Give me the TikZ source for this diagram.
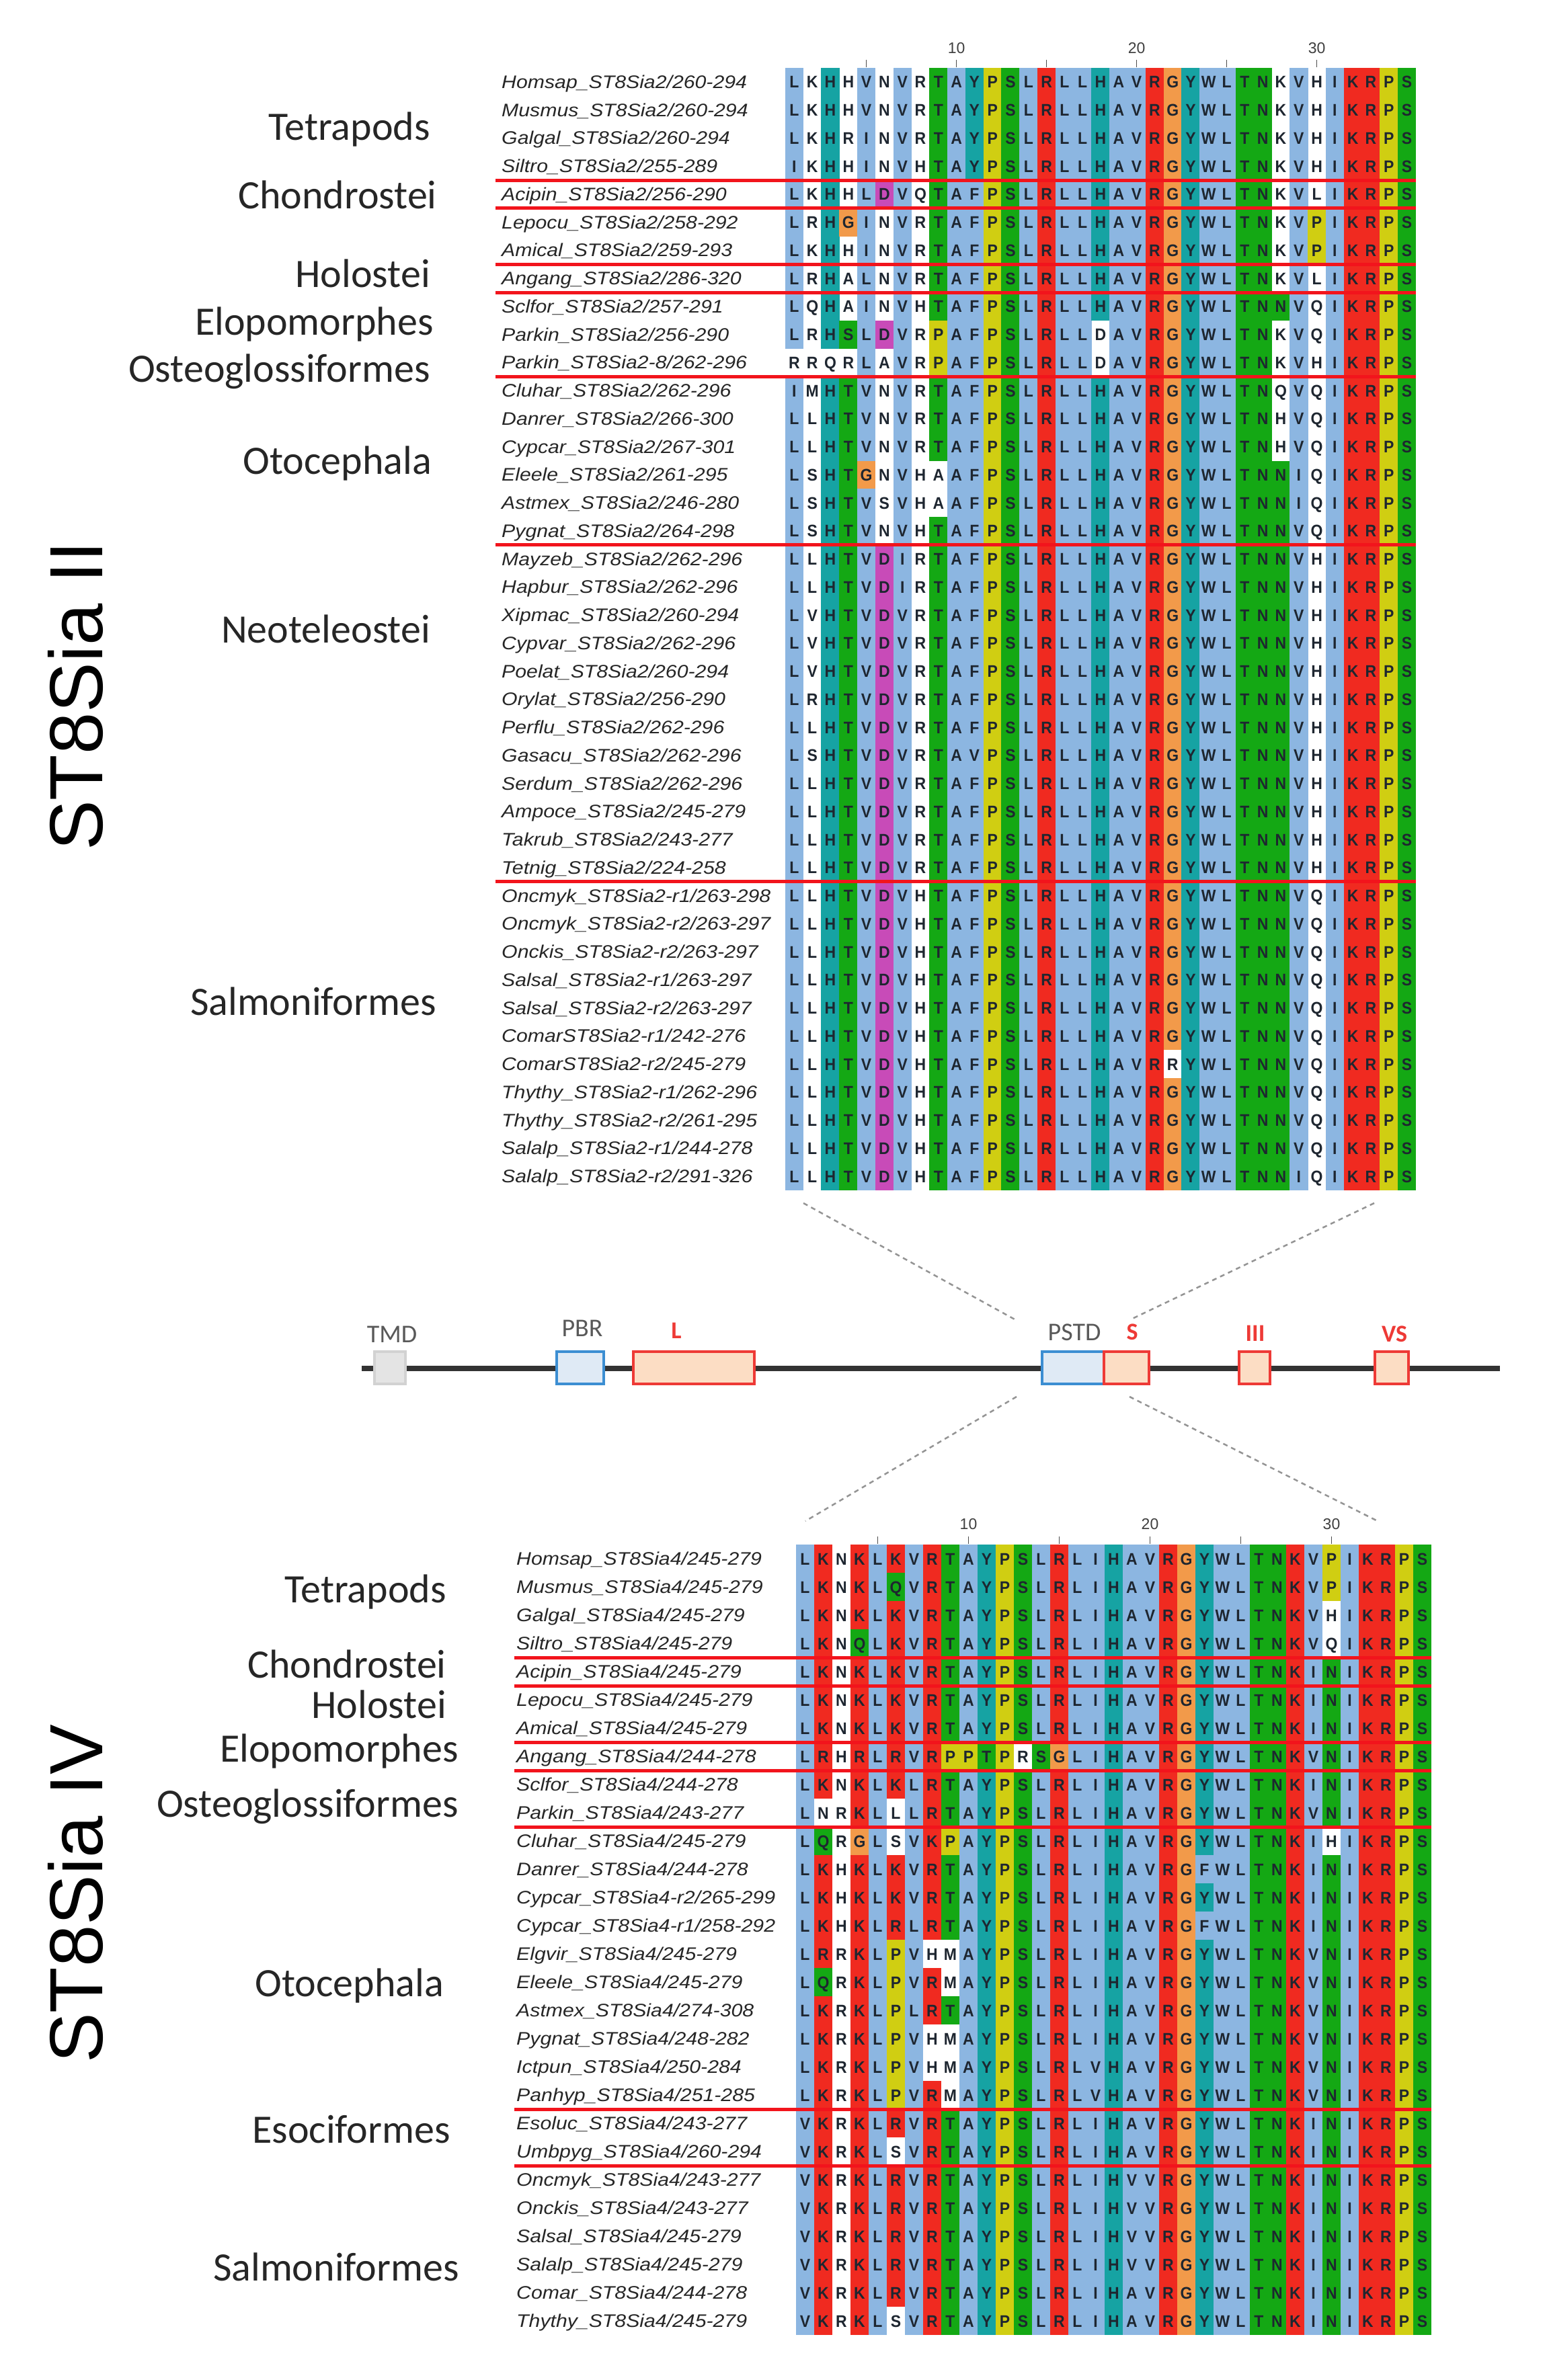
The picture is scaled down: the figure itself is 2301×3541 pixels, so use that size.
\documentclass[tikz,border=0pt]{standalone}
\usepackage{fontspec}
\setmainfont{Liberation Sans}
\newfontfamily\labfont{Carlito}
\definecolor{cxb}{HTML}{8CB6E1}
\definecolor{cxr}{HTML}{F02A20}
\definecolor{cxg}{HTML}{14A814}
\definecolor{cxc}{HTML}{16A3A3}
\definecolor{cxy}{HTML}{D0CE12}
\definecolor{cxo}{HTML}{F29A4A}
\definecolor{cxm}{HTML}{C84BB8}
\definecolor{reslet}{HTML}{1E2630}
\definecolor{sepred}{HTML}{F2141C}
\definecolor{dblue}{HTML}{3C8ED2}
\definecolor{dbluefill}{HTML}{DFEAF5}
\definecolor{dred}{HTML}{EE3A36}
\definecolor{dredfill}{HTML}{FCDDC4}
\definecolor{dgray}{HTML}{D2D2D2}
\definecolor{dgrayfill}{HTML}{E4E4E4}

\tikzset{
  res/.style={font=\bfseries\fontsize{25}{25}\selectfont, text=reslet, inner sep=0pt, anchor=base, xscale=0.92},
  seqname/.style={font=\itshape\fontsize{27}{27}\selectfont, text=black!85, inner sep=0pt, anchor=base west, xscale=1.12},
  grouplab/.style={font=\labfont\fontsize{60}{60}\selectfont, text=black!85, inner sep=0pt, anchor=base east},
  biglab/.style={font=\fontsize{112}{112}\selectfont, text=black, inner sep=0pt, anchor=base west, rotate=90},
  ticknum/.style={font=\fontsize{23}{23}\selectfont, text=black!75, inner sep=0pt},
  tickmark/.style={draw=black!70, line width=1.5pt},
  sepline/.style={draw=sepred, line width=5pt},
  dashconn/.style={draw=black!42, line width=2.5pt, dash pattern=on 7pt off 6pt},
  domline/.style={draw=black!80, line width=8pt},
  dombox/.style={inner sep=0pt, line width=3.5pt, minimum height=48pt},
  grybox/.style={dombox, draw=dgray, fill=dgrayfill},
  blubox/.style={dombox, draw=dblue, fill=dbluefill},
  redbox/.style={dombox, draw=dred, fill=dredfill},
  domlab/.style={font=\labfont\fontsize{38}{38}\selectfont, text=black!65, inner sep=0pt},
  domred/.style={font=\labfont\bfseries\fontsize{36}{36}\selectfont, text=dred, inner sep=0pt},
}

\makeatletter
\newcount\rescol
\def\resloop#1#2\relax#3#4\relax{%
  \drawres{#1}{#3}%
  \global\advance\rescol by 1\relax
  \ifx\relax#2\relax\expandafter\@gobble\else\expandafter\@firstofone\fi
  {\resloop#2\relax#4\relax}}
\newcommand\drawres[2]{%
  \pgfmathsetmacro\cx{\blkx+\the\rescol*\blkw}%
  \pgfmathsetmacro\cxmid{\cx+0.5*\blkw}%
  \if#2w\else\fill[cx#2] (\cx-0.3,\cy) rectangle ++(\blkw+0.6,\blkh);\fi
  \node[res] (\blkid\rowid-\the\rescol) at (\cxmid,\cym) {#1};}
\newcommand\alnrow[4]{%
  \def\rowid{#1}%
  \pgfmathsetmacro\cy{\blktop+(#1-1)*\blkh}%
  \pgfmathsetmacro\cym{\cy+0.5*\blkh+9}%
  \pgfmathsetmacro\cyn{\cy+0.5*\blkh+9.5}%
  \node[seqname] (\blkid name#1) at (\namex,\cyn) {#2};
  \global\rescol=0\relax
  \edef\@tmprow{\noexpand\resloop#3\relax#4\relax}\@tmprow}
\makeatother

% colour patterns, top block
\def\cclTet{bwcwb wbwgb cygbr bbcbb rocbb ggwbw brryg}
\def\cclAci{bwcwb mbwgb bygbr bbcbb rocbb ggwbw brryg}
\def\cclLep{bwcob wbwgb bygbr bbcbb rocbb ggwby brryg}
\def\cclAmi{bwcwb wbwgb bygbr bbcbb rocbb ggwby brryg}
\def\cclAng{bwcwb wbwgb bygbr bbcbb rocbb ggwbw brryg}
\def\cclScl{bwcwb wbwgb bygbr bbcbb rocbb gggbw brryg}
\def\cclPar{bwcgb mbwyb bygbr bbwbb rocbb ggwbw brryg}
\def\cclPaz{wwwwb wbwyb bygbr bbwbb rocbb ggwbw brryg}
\def\cclClu{bwcgb wbwgb bygbr bbcbb rocbb ggwbw brryg}
\def\cclEle{bwcgo wbwwb bygbr bbcbb rocbb gggbw brryg}
\def\cclAst{bwcgb wbwwb bygbr bbcbb rocbb gggbw brryg}
\def\cclPyg{bwcgb wbwgb bygbr bbcbb rocbb gggbw brryg}
\def\cclNeo{bwcgb mbwgb bygbr bbcbb rocbb gggbw brryg}
\def\cclCom{bwcgb mbwgb bygbr bbcbb rwcbb gggbw brryg}
% colour patterns, bottom block
\def\cclbA{brwrb rbrgb cygbr bbcbb rocbb ggrby brryg}
\def\cclbB{brwrb gbrgb cygbr bbcbb rocbb ggrby brryg}
\def\cclbC{brwrb rbrgb cygbr bbcbb rocbb ggrbw brryg}
\def\cclbD{brwgb rbrgb cygbr bbcbb rocbb ggrbw brryg}
\def\cclbE{brwrb rbrgb cygbr bbcbb rocbb ggrbg brryg}
\def\cclbF{brwrb rbryy gywgo bbcbb rocbb ggrbg brryg}
\def\cclbG{bwwrb wbrgb cygbr bbcbb rocbb ggrbg brryg}
\def\cclbH{bgwob wbryb cygbr bbcbb rocbb ggrbw brryg}
\def\cclbI{brwrb rbrgb cygbr bbcbb robbb ggrbg brryg}
\def\cclbJ{brwrb ybwwb cygbr bbcbb rocbb ggrbg brryg}
\def\cclbK{bgwrb ybrwb cygbr bbcbb rocbb ggrbg brryg}
\def\cclbL{brwrb ybrgb cygbr bbcbb rocbb ggrbg brryg}
\def\cclbM{brwrb ybrwb cygbr bbcbb rocbb ggrbg brryg}
\def\cclbN{brwrb wbrgb cygbr bbcbb rocbb ggrbg brryg}

\begin{document}
\begin{tikzpicture}[x=1pt,y=-1pt]
\useasboundingbox (0,0) rectangle (2301,3541);
\fill[white] (0,0) rectangle (2301,3541);

% ---------------- top alignment (ST8Sia II) ----------------
\def\blkx{1168}\def\blkw{26.8}\def\blktop{101}\def\blkh{41.75}\def\namex{746}\def\blkid{A}
\alnrow{1}{Homsap\_ST8Sia2/260-294}{LKHHV NVRTA YPSLR LLHAV RGYWL TNKVH IKRPS}{\cclTet}
\alnrow{2}{Musmus\_ST8Sia2/260-294}{LKHHV NVRTA YPSLR LLHAV RGYWL TNKVH IKRPS}{\cclTet}
\alnrow{3}{Galgal\_ST8Sia2/260-294}{LKHRI NVRTA YPSLR LLHAV RGYWL TNKVH IKRPS}{\cclTet}
\alnrow{4}{Siltro\_ST8Sia2/255-289}{IKHHI NVHTA YPSLR LLHAV RGYWL TNKVH IKRPS}{\cclTet}
\alnrow{5}{Acipin\_ST8Sia2/256-290}{LKHHL DVQTA FPSLR LLHAV RGYWL TNKVL IKRPS}{\cclAci}
\alnrow{6}{Lepocu\_ST8Sia2/258-292}{LRHGI NVRTA FPSLR LLHAV RGYWL TNKVP IKRPS}{\cclLep}
\alnrow{7}{Amical\_ST8Sia2/259-293}{LKHHI NVRTA FPSLR LLHAV RGYWL TNKVP IKRPS}{\cclAmi}
\alnrow{8}{Angang\_ST8Sia2/286-320}{LRHAL NVRTA FPSLR LLHAV RGYWL TNKVL IKRPS}{\cclAng}
\alnrow{9}{Sclfor\_ST8Sia2/257-291}{LQHAI NVHTA FPSLR LLHAV RGYWL TNNVQ IKRPS}{\cclScl}
\alnrow{10}{Parkin\_ST8Sia2/256-290}{LRHSL DVRPA FPSLR LLDAV RGYWL TNKVQ IKRPS}{\cclPar}
\alnrow{11}{Parkin\_ST8Sia2-8/262-296}{RRQRL AVRPA FPSLR LLDAV RGYWL TNKVH IKRPS}{\cclPaz}
\alnrow{12}{Cluhar\_ST8Sia2/262-296}{IMHTV NVRTA FPSLR LLHAV RGYWL TNQVQ IKRPS}{\cclClu}
\alnrow{13}{Danrer\_ST8Sia2/266-300}{LLHTV NVRTA FPSLR LLHAV RGYWL TNHVQ IKRPS}{\cclClu}
\alnrow{14}{Cypcar\_ST8Sia2/267-301}{LLHTV NVRTA FPSLR LLHAV RGYWL TNHVQ IKRPS}{\cclClu}
\alnrow{15}{Eleele\_ST8Sia2/261-295}{LSHTG NVHAA FPSLR LLHAV RGYWL TNNIQ IKRPS}{\cclEle}
\alnrow{16}{Astmex\_ST8Sia2/246-280}{LSHTV SVHAA FPSLR LLHAV RGYWL TNNIQ IKRPS}{\cclAst}
\alnrow{17}{Pygnat\_ST8Sia2/264-298}{LSHTV NVHTA FPSLR LLHAV RGYWL TNNVQ IKRPS}{\cclPyg}
\alnrow{18}{Mayzeb\_ST8Sia2/262-296}{LLHTV DIRTA FPSLR LLHAV RGYWL TNNVH IKRPS}{\cclNeo}
\alnrow{19}{Hapbur\_ST8Sia2/262-296}{LLHTV DIRTA FPSLR LLHAV RGYWL TNNVH IKRPS}{\cclNeo}
\alnrow{20}{Xipmac\_ST8Sia2/260-294}{LVHTV DVRTA FPSLR LLHAV RGYWL TNNVH IKRPS}{\cclNeo}
\alnrow{21}{Cypvar\_ST8Sia2/262-296}{LVHTV DVRTA FPSLR LLHAV RGYWL TNNVH IKRPS}{\cclNeo}
\alnrow{22}{Poelat\_ST8Sia2/260-294}{LVHTV DVRTA FPSLR LLHAV RGYWL TNNVH IKRPS}{\cclNeo}
\alnrow{23}{Orylat\_ST8Sia2/256-290}{LRHTV DVRTA FPSLR LLHAV RGYWL TNNVH IKRPS}{\cclNeo}
\alnrow{24}{Perflu\_ST8Sia2/262-296}{LLHTV DVRTA FPSLR LLHAV RGYWL TNNVH IKRPS}{\cclNeo}
\alnrow{25}{Gasacu\_ST8Sia2/262-296}{LSHTV DVRTA VPSLR LLHAV RGYWL TNNVH IKRPS}{\cclNeo}
\alnrow{26}{Serdum\_ST8Sia2/262-296}{LLHTV DVRTA FPSLR LLHAV RGYWL TNNVH IKRPS}{\cclNeo}
\alnrow{27}{Ampoce\_ST8Sia2/245-279}{LLHTV DVRTA FPSLR LLHAV RGYWL TNNVH IKRPS}{\cclNeo}
\alnrow{28}{Takrub\_ST8Sia2/243-277}{LLHTV DVRTA FPSLR LLHAV RGYWL TNNVH IKRPS}{\cclNeo}
\alnrow{29}{Tetnig\_ST8Sia2/224-258}{LLHTV DVRTA FPSLR LLHAV RGYWL TNNVH IKRPS}{\cclNeo}
\alnrow{30}{Oncmyk\_ST8Sia2-r1/263-298}{LLHTV DVHTA FPSLR LLHAV RGYWL TNNVQ IKRPS}{\cclNeo}
\alnrow{31}{Oncmyk\_ST8Sia2-r2/263-297}{LLHTV DVHTA FPSLR LLHAV RGYWL TNNVQ IKRPS}{\cclNeo}
\alnrow{32}{Onckis\_ST8Sia2-r2/263-297}{LLHTV DVHTA FPSLR LLHAV RGYWL TNNVQ IKRPS}{\cclNeo}
\alnrow{33}{Salsal\_ST8Sia2-r1/263-297}{LLHTV DVHTA FPSLR LLHAV RGYWL TNNVQ IKRPS}{\cclNeo}
\alnrow{34}{Salsal\_ST8Sia2-r2/263-297}{LLHTV DVHTA FPSLR LLHAV RGYWL TNNVQ IKRPS}{\cclNeo}
\alnrow{35}{ComarST8Sia2-r1/242-276}{LLHTV DVHTA FPSLR LLHAV RGYWL TNNVQ IKRPS}{\cclNeo}
\alnrow{36}{ComarST8Sia2-r2/245-279}{LLHTV DVHTA FPSLR LLHAV RRYWL TNNVQ IKRPS}{\cclCom}
\alnrow{37}{Thythy\_ST8Sia2-r1/262-296}{LLHTV DVHTA FPSLR LLHAV RGYWL TNNVQ IKRPS}{\cclNeo}
\alnrow{38}{Thythy\_ST8Sia2-r2/261-295}{LLHTV DVHTA FPSLR LLHAV RGYWL TNNVQ IKRPS}{\cclNeo}
\alnrow{39}{Salalp\_ST8Sia2-r1/244-278}{LLHTV DVHTA FPSLR LLHAV RGYWL TNNVQ IKRPS}{\cclNeo}
\alnrow{40}{Salalp\_ST8Sia2-r2/291-326}{LLHTV DVHTA FPSLR LLHAV RGYWL TNNIQ IKRPS}{\cclNeo}

\foreach \k in {4,5,7,8,11,17,29}
  \draw[sepline] (737,101+\k*41.75) -- (2106,101+\k*41.75);
\foreach \k in {5,10,...,30}
  \draw[tickmark] (1168+\k*26.8-13.4,89) -- (1168+\k*26.8-13.4,100);
\node[ticknum] (tA10) at (1422.6,72) {10};
\node[ticknum] (tA20) at (1690.6,72) {20};
\node[ticknum] (tA30) at (1958.6,72) {30};

% ---------------- bottom alignment (ST8Sia IV) ----------------
\def\blkx{1184}\def\blkw{27}\def\blktop{2298}\def\blkh{42}\def\namex{768}\def\blkid{B}
\alnrow{1}{Homsap\_ST8Sia4/245-279}{LKNKL KVRTA YPSLR LIHAV RGYWL TNKVP IKRPS}{\cclbA}
\alnrow{2}{Musmus\_ST8Sia4/245-279}{LKNKL QVRTA YPSLR LIHAV RGYWL TNKVP IKRPS}{\cclbB}
\alnrow{3}{Galgal\_ST8Sia4/245-279}{LKNKL KVRTA YPSLR LIHAV RGYWL TNKVH IKRPS}{\cclbC}
\alnrow{4}{Siltro\_ST8Sia4/245-279}{LKNQL KVRTA YPSLR LIHAV RGYWL TNKVQ IKRPS}{\cclbD}
\alnrow{5}{Acipin\_ST8Sia4/245-279}{LKNKL KVRTA YPSLR LIHAV RGYWL TNKIN IKRPS}{\cclbE}
\alnrow{6}{Lepocu\_ST8Sia4/245-279}{LKNKL KVRTA YPSLR LIHAV RGYWL TNKIN IKRPS}{\cclbE}
\alnrow{7}{Amical\_ST8Sia4/245-279}{LKNKL KVRTA YPSLR LIHAV RGYWL TNKIN IKRPS}{\cclbE}
\alnrow{8}{Angang\_ST8Sia4/244-278}{LRHRL RVRPP TPRSG LIHAV RGYWL TNKVN IKRPS}{\cclbF}
\alnrow{9}{Sclfor\_ST8Sia4/244-278}{LKNKL KLRTA YPSLR LIHAV RGYWL TNKIN IKRPS}{\cclbE}
\alnrow{10}{Parkin\_ST8Sia4/243-277}{LNRKL LLRTA YPSLR LIHAV RGYWL TNKVN IKRPS}{\cclbG}
\alnrow{11}{Cluhar\_ST8Sia4/245-279}{LQRGL SVKPA YPSLR LIHAV RGYWL TNKIH IKRPS}{\cclbH}
\alnrow{12}{Danrer\_ST8Sia4/244-278}{LKHKL KVRTA YPSLR LIHAV RGFWL TNKIN IKRPS}{\cclbI}
\alnrow{13}{Cypcar\_ST8Sia4-r2/265-299}{LKHKL KVRTA YPSLR LIHAV RGYWL TNKIN IKRPS}{\cclbE}
\alnrow{14}{Cypcar\_ST8Sia4-r1/258-292}{LKHKL RLRTA YPSLR LIHAV RGFWL TNKIN IKRPS}{\cclbI}
\alnrow{15}{Elgvir\_ST8Sia4/245-279}{LRRKL PVHMA YPSLR LIHAV RGYWL TNKVN IKRPS}{\cclbJ}
\alnrow{16}{Eleele\_ST8Sia4/245-279}{LQRKL PVRMA YPSLR LIHAV RGYWL TNKVN IKRPS}{\cclbK}
\alnrow{17}{Astmex\_ST8Sia4/274-308}{LKRKL PLRTA YPSLR LIHAV RGYWL TNKVN IKRPS}{\cclbL}
\alnrow{18}{Pygnat\_ST8Sia4/248-282}{LKRKL PVHMA YPSLR LIHAV RGYWL TNKVN IKRPS}{\cclbJ}
\alnrow{19}{Ictpun\_ST8Sia4/250-284}{LKRKL PVHMA YPSLR LVHAV RGYWL TNKVN IKRPS}{\cclbJ}
\alnrow{20}{Panhyp\_ST8Sia4/251-285}{LKRKL PVRMA YPSLR LVHAV RGYWL TNKVN IKRPS}{\cclbM}
\alnrow{21}{Esoluc\_ST8Sia4/243-277}{VKRKL RVRTA YPSLR LIHAV RGYWL TNKIN IKRPS}{\cclbE}
\alnrow{22}{Umbpyg\_ST8Sia4/260-294}{VKRKL SVRTA YPSLR LIHAV RGYWL TNKIN IKRPS}{\cclbN}
\alnrow{23}{Oncmyk\_ST8Sia4/243-277}{VKRKL RVRTA YPSLR LIHVV RGYWL TNKIN IKRPS}{\cclbE}
\alnrow{24}{Onckis\_ST8Sia4/243-277}{VKRKL RVRTA YPSLR LIHVV RGYWL TNKIN IKRPS}{\cclbE}
\alnrow{25}{Salsal\_ST8Sia4/245-279}{VKRKL RVRTA YPSLR LIHVV RGYWL TNKIN IKRPS}{\cclbE}
\alnrow{26}{Salalp\_ST8Sia4/245-279}{VKRKL RVRTA YPSLR LIHVV RGYWL TNKIN IKRPS}{\cclbE}
\alnrow{27}{Comar\_ST8Sia4/244-278}{VKRKL RVRTA YPSLR LIHAV RGYWL TNKIN IKRPS}{\cclbE}
\alnrow{28}{Thythy\_ST8Sia4/245-279}{VKRKL SVRTA YPSLR LIHAV RGYWL TNKIN IKRPS}{\cclbN}

\foreach \k in {4,5,7,8,10,20,22}
  \draw[sepline] (765,2298+\k*42) -- (2129,2298+\k*42);
\foreach \k in {5,10,...,30}
  \draw[tickmark] (1184+\k*27-13.5,2286) -- (1184+\k*27-13.5,2297);
\node[ticknum] (tB10) at (1440.5,2268) {10};
\node[ticknum] (tB20) at (1710.5,2268) {20};
\node[ticknum] (tB30) at (1980.5,2268) {30};

% ---------------- group labels ----------------
\node[grouplab] (gA1) at (640,208) {Tetrapods};
\node[grouplab] (gA2) at (650,310) {Chondrostei};
\node[grouplab] (gA3) at (640,427) {Holostei};
\node[grouplab] (gA4) at (645,498) {Elopomorphes};
\node[grouplab] (gA5) at (640,568) {Osteoglossiformes};
\node[grouplab] (gA6) at (642,705) {Otocephala};
\node[grouplab] (gA7) at (640,956) {Neoteleostei};
\node[grouplab] (gA8) at (649,1510) {Salmoniformes};

\node[grouplab] (gB1) at (664,2384) {Tetrapods};
\node[grouplab] (gB2) at (664,2496) {Chondrostei};
\node[grouplab] (gB3) at (664,2556) {Holostei};
\node[grouplab] (gB4) at (682,2621) {Elopomorphes};
\node[grouplab] (gB5) at (682,2703) {Osteoglossiformes};
\node[grouplab] (gB6) at (660,2970) {Otocephala};
\node[grouplab] (gB7) at (670,3188) {Esociformes};
\node[grouplab] (gB8) at (683,3393) {Salmoniformes};

\node[biglab] (bigA) at (152,1266) {ST8Sia II};
\node[biglab] (bigB) at (152,3070) {ST8Sia IV};

% ---------------- domain scheme ----------------
\coordinate (dl) at (538,2036);
\coordinate (dr) at (2231,2036);
\draw[domline] (dl) -- (dr);
\node[grybox, minimum width=46pt] (tmd) at (580,2035) {};
\node[blubox, minimum width=70pt] (pbr) at (863,2035) {};
\node[redbox, minimum width=180pt] (lbox) at (1032,2035) {};
\node[blubox, minimum width=92pt] (pstd) at (1596,2035) {};
\node[redbox, minimum width=67pt] (sbox) at (1675.5,2035) {};
\node[redbox, minimum width=46pt] (iiibox) at (1866,2035) {};
\node[redbox, minimum width=50pt] (vsbox) at (2070,2035) {};

\node[domlab] (tmdlab) at (583,1985) {TMD};
\node[domlab] (pbrlab) at (866,1976) {PBR};
\node[domred] (llab) at (1006,1980) {L};
\node[domlab] (pstdlab) at (1598,1982) {PSTD};
\node[domred] (slab) at (1684,1982) {S};
\node[domred] (iiilab) at (1867,1984) {III};
\node[domred] (vslab) at (2074,1985) {VS};

% ---------------- dashed zoom connectors ----------------
\coordinate (tl1) at (1195,1790);
\coordinate (tl2) at (1513,1965);
\coordinate (tr1) at (2044,1790);
\coordinate (tr2) at (1684,1962);
\coordinate (bl1) at (1512,2078);
\coordinate (bl2) at (1198,2263);
\coordinate (br1) at (1680,2078);
\coordinate (br2) at (2049,2263);
\draw[dashconn] (tl1) -- (tl2);
\draw[dashconn] (tr1) -- (tr2);
\draw[dashconn] (bl1) -- (bl2);
\draw[dashconn] (br1) -- (br2);
\end{tikzpicture}
\end{document}
